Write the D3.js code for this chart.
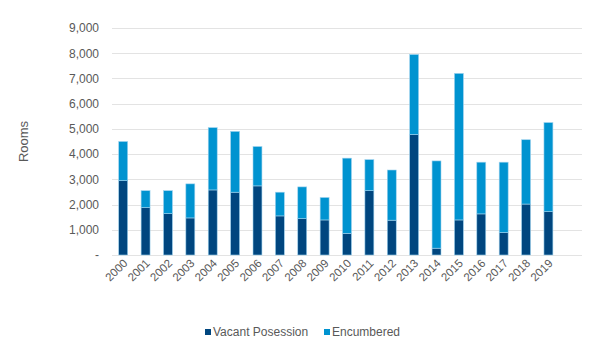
<!doctype html>
<html lang="en">
<head>
<meta charset="utf-8">
<title>Rooms</title>
<script src="https://cdn.jsdelivr.net/npm/d3@7"></script>
<style>
  body { margin: 0; background: #fff; }
  text { font-family: "Liberation Sans", Arial, sans-serif; fill: #595959; }
</style>
</head>
<body>
<div id="viz"></div>
<script>
var years = ["2000","2001","2002","2003","2004","2005","2006","2007","2008","2009",
             "2010","2011","2012","2013","2014","2015","2016","2017","2018","2019"];
var vacant =     [2950, 1880, 1640, 1470, 2580, 2490, 2740, 1550, 1440, 1390,
                   860, 2550, 1380, 4780,  270, 1390, 1630,  890, 2020, 1720];
var encumbered = [1550,  670,  910, 1350, 2470, 2410, 1560,  940, 1260,  890,
                  2980, 1230, 1990, 3170, 3460, 5810, 2050, 2790, 2550, 3530];
var seriesNames = ["Vacant Posession", "Encumbered"];
var yTicks = [0, 1000, 2000, 3000, 4000, 5000, 6000, 7000, 8000, 9000];

var w = 600, h = 351;
var margin = {top: 28, right: 18, bottom: 96, left: 112};
var colors = ["#00467f", "#0093d0"];

var svg = d3.select("#viz").append("svg")
  .attr("width", w)
  .attr("height", h);

// Excel leaves one empty slot after the last year
var xScale = d3.scaleBand()
  .domain(years.concat([""]))
  .range([margin.left, w - margin.right])
  .paddingInner(0.6)
  .paddingOuter(0.3);

var yScale = d3.scaleLinear()
  .domain([0, 9000])
  .range([h - margin.bottom, margin.top]);

// gridlines
svg.append("g")
  .selectAll("line")
  .data(yTicks)
  .enter()
  .append("line")
  .attr("x1", margin.left)
  .attr("x2", w - margin.right)
  .attr("y1", d => Math.round(yScale(d)) + 0.5)
  .attr("y2", d => Math.round(yScale(d)) + 0.5)
  .attr("stroke", "#e3e3e3")
  .attr("stroke-width", 1);

// y labels
var yAxis = d3.axisLeft(yScale)
  .tickValues(yTicks)
  .tickSize(0)
  .tickPadding(13)
  .tickFormat(d => d === 0 ? "-" : d3.format(",")(d));

svg.append("g")
  .attr("transform", "translate(" + margin.left + ",0)")
  .call(yAxis)
  .call(g => g.select(".domain").remove())
  .selectAll("text")
  .style("font-size", "12px")
  .style("fill", "#595959");

svg.append("text")
  .attr("transform", "translate(28," + yScale(4500) + ") rotate(-90)")
  .attr("text-anchor", "middle")
  .style("font-size", "13px")
  .text("Rooms");

// stacked bars
var rows = years.map((y, i) => ({year: y, vacant: vacant[i], encumbered: encumbered[i]}));
var stack = d3.stack().keys(["vacant", "encumbered"]);
var series = stack(rows);

svg.append("g")
  .selectAll("g")
  .data(series)
  .enter()
  .append("g")
  .attr("fill", (d, i) => colors[i])
  .selectAll("rect")
  .data(d => d)
  .enter()
  .append("rect")
  .attr("x", d => xScale(d.data.year))
  .attr("width", xScale.bandwidth())
  .attr("y", d => yScale(d[1]))
  .attr("height", d => yScale(d[0]) - yScale(d[1]))
  .attr("stroke", "#9fd3ee")
  .attr("stroke-width", 0.6);

// x labels
svg.append("g")
  .selectAll("text")
  .data(years)
  .enter()
  .append("text")
  .attr("text-anchor", "end")
  .attr("transform", d => "translate(" + (xScale(d) + xScale.bandwidth() / 2 + 5) + "," + (h - margin.bottom + 9) + ") rotate(-45)")
  .style("font-size", "11.5px")
  .text(d => d);

// legend
var legend = svg.append("g");
var legendX = [205, 324];
seriesNames.forEach(function(name, i) {
  legend.append("rect")
    .attr("x", legendX[i])
    .attr("y", 329)
    .attr("width", 6)
    .attr("height", 6)
    .attr("fill", colors[i]);
  legend.append("text")
    .attr("x", legendX[i] + 8)
    .attr("y", 336)
    .style("font-size", "12px")
    .text(name);
});
</script>
</body>
</html>
